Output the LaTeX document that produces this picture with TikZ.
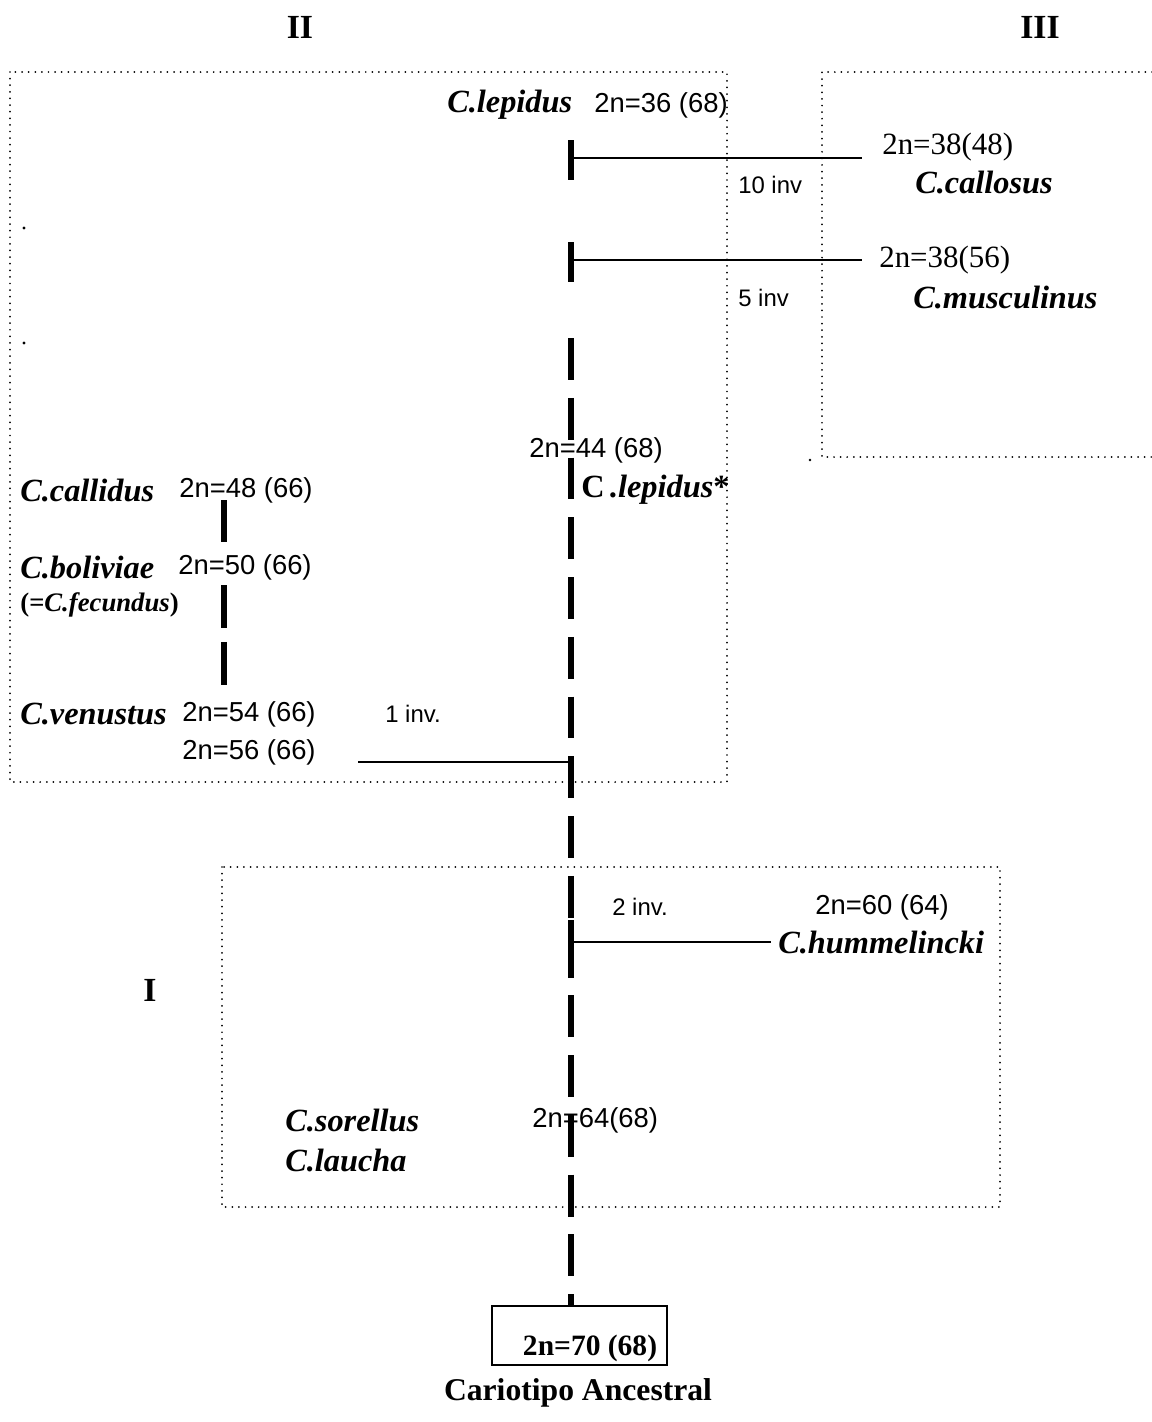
\documentclass[tikz,border=0pt]{standalone}
\usepackage{fontspec}
\setmainfont{Liberation Serif}
\setsansfont{Liberation Sans}
\usepackage{tikz}
\def\sp#1{\textbf{\textit{#1}}}

\begin{document}
\begin{tikzpicture}[x=0.025cm,y=-0.025cm]
    \tikzstyle{species}=[font=\fontsize{23}{25}\selectfont\bfseries\itshape,inner sep=0pt,anchor=west]
    \tikzstyle{chrom}=[font=\sffamily\fontsize{19.5}{21}\selectfont,inner sep=0pt,anchor=west]
    \tikzstyle{chromserif}=[font=\fontsize{22}{24}\selectfont,inner sep=0pt,anchor=west]
    \tikzstyle{invlabel}=[font=\sffamily\fontsize{17}{19}\selectfont,inner sep=0pt,anchor=west]
    \tikzstyle{grouplabel}=[font=\fontsize{24}{26}\selectfont\bfseries,inner sep=0pt]
    \tikzstyle{zone}=[line width=1.4pt,dash pattern=on 0pt off 4.7pt,line cap=round]
    \tikzstyle{trunk}=[line width=4.2pt,dash pattern=on 29.8pt off 12.7pt]
    \tikzstyle{bar}=[line width=4.2pt]
    \tikzstyle{branch}=[line width=1.8pt]
    \useasboundingbox (0,0) rectangle (1152,1422);

    \draw[zone] (10,72) rectangle (727,782);
    \draw[zone] (1152,72) -- (822,72) -- (822,457) -- (1152,457);
    \draw[zone] (222,867) rectangle (1000,1207);
    \fill (24,228) circle (1.2pt);
    \fill (24,343) circle (1.2pt);
    \fill (810,460) circle (1pt);

    \node[grouplabel] (grpII) at (300,27) {II};
    \node[grouplabel] (grpIII) at (1040,27) {III};
    \node[grouplabel] (grpI) at (150,990) {I};

    \node[species] (lepidus) at (447,105) {C.lepidus};
    \node[chrom] (lepidusN) at (594,105) {2n=36 (68)};
    \node[chromserif] (callosusN) at (882,147) {2n=38(48)};
    \node[species] (callosus) at (915,183) {C.callosus};
    \node[invlabel] (inv10) at (738,185) {10 inv};
    \node[chromserif] (musculN) at (879,260) {2n=38(56)};
    \node[species] (muscul) at (913,298) {C.musculinus};
    \node[invlabel] (inv5) at (738,298) {5 inv};
    \node[chrom] (lepidusBN) at (529,450) {2n=44 (68)};
    \node[species] (lepidusB) at (581,490) {{\upshape C}\,.lepidus{\upshape *}};
    \node[species] (callidus) at (20,490) {C.callidus};
    \node[chrom] (callidusN) at (179,490) {2n=48 (66)};
    \node[species] (bolivia) at (20,567) {C.boliviae};
    \node[chrom] (boliviaN) at (178,567) {2n=50 (66)};
    \node[species,font=\fontsize{19}{21}\selectfont\bfseries\itshape] (fecundus) at (20,605) {{\upshape(}=C.fecundus{\upshape)}};
    \node[species] (venustus) at (20,714) {C.venustus};
    \node[chrom] (venustusN) at (182,714) {2n=54 (66)};
    \node[chrom] (venustusM) at (182,752) {2n=56 (66)};
    \node[invlabel] (inv1) at (385,714) {1 inv.};
    \node[invlabel] (inv2) at (612,907) {2 inv.};
    \node[chrom] (hummelN) at (815,907) {2n=60 (64)};
    \node[species] (hummel) at (778,942) {C.hummelincki};
    \node[species] (sorellus) at (285,1120) {C.sorellus};
    \node[species] (laucha) at (285,1160) {C.laucha};
    \node[chrom] (sorellusN) at (532,1120) {2n=64(68)};
    \node[draw,line width=1.4pt,minimum width=4.375cm,minimum height=1.475cm,
      font=\fontsize{21}{23}\selectfont\bfseries] (anc) at (579.5,1335.5) {\raisebox{-14pt}[0pt][0pt]{\hspace{15pt}2n=70 (68)}};
    \node[grouplabel,font=\fontsize{22.5}{24}\selectfont\bfseries] (ancLabel) at (578,1393) {Cariotipo Ancestral};

    \coordinate (tkA) at (571,158);
    \coordinate (tkB) at (571,260);
    \coordinate (tkC) at (571,762);
    \coordinate (tkD) at (571,942);
    \coordinate (trunkTop) at (571,338);
    \coordinate (lsA) at (224,500);
    \coordinate (lsB) at (224,542);
    \coordinate (lsC) at (224,585);
    \coordinate (lsD) at (224,685);

    \draw[trunk] (trunkTop) -- (trunkTop |- anc.north);
    \draw[bar] (tkA) ++(0,-18) -- ++(0,40);
    \draw[bar] (tkB) ++(0,-18) -- ++(0,40);
    \draw[bar] (tkD) ++(0,-22) -- ++(0,44);
    \draw[branch] (tkA) -- ++(291,0);
    \draw[branch] (tkB) -- ++(291,0);
    \draw[branch] (tkC) -- ++(-213,0);
    \draw[branch] (tkD) -- ([xshift=-5pt]hummel.west);
    \draw[bar] (lsA) -- (lsB);
    \draw[bar,dash pattern=on 30.5pt off 10pt] (lsC) -- (lsD);
  \end{tikzpicture}
\end{document}
